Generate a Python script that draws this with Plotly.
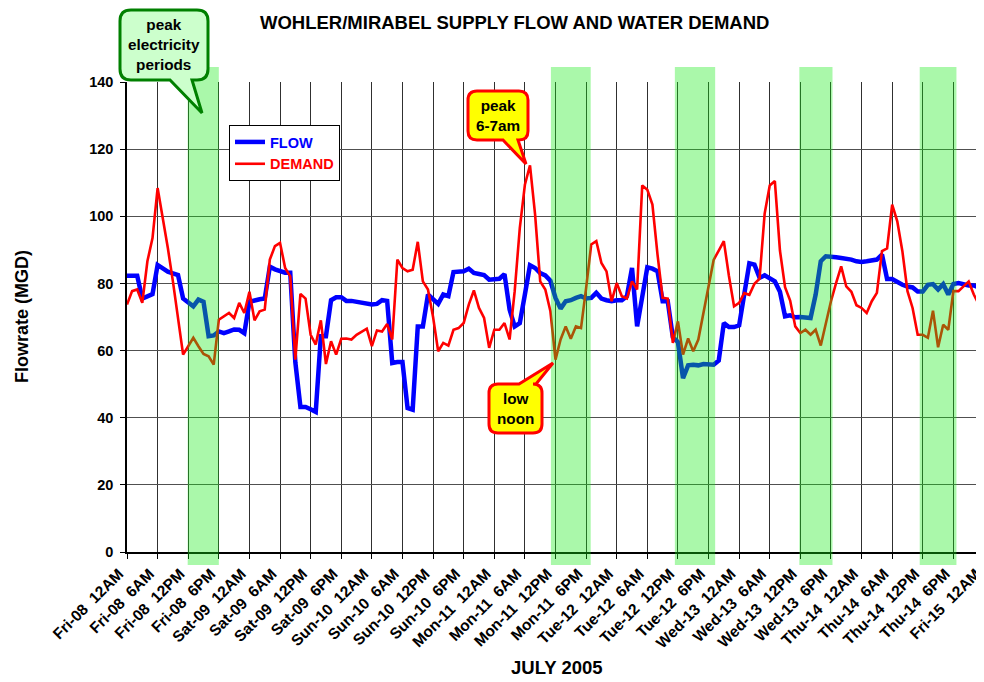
import plotly.graph_objects as go

# ---------------- data (hourly, Fri-08 00:00 .. Fri-15 00:00) ----------------
hours = list(range(169))

flow = [
    82.3, 82.3, 82.3, 75.5, 76.0, 76.8, 85.5, 84.5, 83.5, 83.0,   # 0-9
    82.5, 75.5, 74.3, 73.2, 75.2, 74.5, 64.3, 64.5, 65.7, 65.2,   # 10-19
    65.7, 66.3, 66.2, 65.2, 74.5, 75.0, 75.3, 75.5, 85.0, 84.2,   # 20-29
    83.6, 83.2, 83.2, 56.5, 43.2, 43.2, 42.5, 41.7, 64.3, 64.3,   # 30-39
    75.0, 75.9, 75.9, 74.8, 74.8, 74.6, 74.2, 73.9, 73.7, 73.9,   # 40-49
    75.0, 74.8, 56.3, 56.6, 56.6, 42.9, 42.4, 67.2, 67.2, 76.7,   # 50-59
    75.2, 73.9, 76.7, 76.2, 83.4, 83.6, 83.6, 84.4, 83.1, 82.8,   # 60-69
    82.5, 81.1, 81.1, 81.4, 82.8, 72.2, 67.2, 68.2, 76.7, 85.4,   # 70-79
    84.6, 83.1, 82.4, 80.8, 75.7, 72.5, 74.7, 75.0, 75.7, 76.2,   # 80-89
    75.5, 75.7, 77.2, 75.5, 75.0, 74.7, 75.0, 75.0, 76.2, 84.6,   # 90-99
    67.2, 76.7, 84.8, 84.4, 83.6, 74.7, 74.7, 64.0, 62.5, 51.8,   # 100-109
    55.6, 55.8, 55.6, 56.0, 55.8, 55.8, 57.0, 68.2, 67.0, 67.0,   # 110-119
    67.5, 76.7, 86.0, 85.6, 81.7, 82.4, 81.6, 80.6, 77.5, 70.2,   # 120-129
    70.5, 69.9, 70.0, 70.0, 69.7, 76.7, 86.6, 88.1, 87.8, 87.8,   # 130-139
    87.6, 87.4, 87.1, 86.6, 86.4, 86.6, 86.8, 87.1, 88.6, 81.3,   # 140-149
    81.3, 80.4, 79.6, 79.1, 78.8, 77.6, 77.6, 79.6, 79.8, 78.2,   # 150-159
    79.8, 76.7, 79.8, 80.1, 79.6, 79.4, 79.4, 78.8, 78.8,         # 160-168
]

demand = [
    73.7, 77.7, 78.2, 74.2, 86.6, 93.5, 108.4, 100.0, 90.6, 80.6,  # 0-9
    69.7, 58.8, 61.3, 63.8, 61.3, 59.0, 58.3, 55.8, 69.2, 70.2,    # 10-19
    71.2, 69.7, 74.2, 71.2, 77.5, 69.0, 71.7, 72.2, 87.1, 91.1,    # 20-29
    92.1, 84.6, 82.1, 57.3, 76.9, 75.5, 64.7, 61.8, 69.0, 56.0,    # 30-39
    62.8, 58.8, 63.5, 63.6, 63.3, 64.7, 65.5, 66.5, 61.3, 66.0,    # 40-49
    65.7, 67.9, 63.3, 87.1, 84.6, 83.6, 84.1, 92.4, 80.6, 78.2,    # 50-59
    70.0, 59.8, 62.3, 61.5, 66.2, 66.7, 68.2, 73.7, 77.9, 72.7,    # 60-69
    69.7, 60.8, 66.2, 66.2, 68.2, 63.3, 77.7, 96.5, 109.4, 115.2,  # 70-79
    100.5, 80.6, 78.2, 71.7, 57.3, 63.3, 67.2, 63.5, 67.2, 66.7,   # 80-89
    78.6, 91.6, 92.6, 86.1, 83.6, 74.7, 80.1, 76.2, 75.5, 80.6,    # 90-99
    78.2, 109.2, 107.9, 103.5, 88.6, 75.7, 75.5, 62.3, 68.7, 58.8, # 100-109
    63.6, 59.8, 63.3, 71.5, 78.5, 87.0, 89.8, 92.6, 82.2, 73.2,    # 110-119
    74.2, 77.1, 76.6, 79.9, 81.4, 100.8, 109.2, 110.5, 89.8, 78.9, # 120-129
    74.9, 67.2, 65.2, 66.2, 64.7, 66.2, 61.5, 68.2, 74.7, 80.1,    # 130-139
    85.1, 79.1, 77.5, 73.5, 72.7, 71.2, 74.7, 77.2, 89.6, 90.4,    # 140-149
    103.5, 98.5, 89.6, 77.7, 72.7, 64.7, 64.7, 63.8, 71.9, 61.0,   # 150-159
    67.7, 66.2, 77.7, 77.7, 79.1, 80.6, 76.7, 73.7, 73.5,          # 160-168
]

days = ["Fri-08", "Sat-09", "Sun-10", "Mon-11", "Tue-12", "Wed-13", "Thu-14", "Fri-15"]
times = ["12AM", "6AM", "12PM", "6PM"]
tick_hours = list(range(0, 169, 6))
tick_labels = [f"{days[i // 4]}\u00a0 {times[i % 4]}" for i in range(len(tick_hours))]

# peak electricity periods (hours from Fri-08 00:00)
band_start = [11.9, 83.1, 107.4, 131.8, 155.4]
band_end = [18.0, 90.9, 115.3, 138.3, 162.6]

# ---------------- layout geometry ----------------
# the page places the figure 8px in from the top-left corner
OFF = 8
W, H = 984 - OFF, 682 - OFF
ML, MT = 127 - OFF, 82 - OFF
MR = W - (984 - OFF)
MB = H - (552 - OFF)
PW, PH = W - ML - MR, H - MT - MB
FONT = "Liberation Sans, Arial, sans-serif"


def pp(x, y):
    """reference-image pixel -> paper coords"""
    return (x - OFF - ML) / PW, 1 - (y - OFF - MT) / PH


def callout_path(x0, y0, x1, y1, r, side, b0, b1, tip):
    def P(x, y):
        a, b = pp(x, y)
        return f"{a:.5f},{b:.5f}"

    s = f"M{P(x0 + r, y0)}"
    if side == "top":
        s += f" L{P(b0, y0)} L{P(*tip)} L{P(b1, y0)}"
    s += f" L{P(x1 - r, y0)} Q{P(x1, y0)} {P(x1, y0 + r)}"
    s += f" L{P(x1, y1 - r)} Q{P(x1, y1)} {P(x1 - r, y1)}"
    if side == "bottom":
        s += f" L{P(b1, y1)} L{P(*tip)} L{P(b0, y1)}"
    s += f" L{P(x0 + r, y1)} Q{P(x0, y1)} {P(x0, y1 - r)}"
    s += f" L{P(x0, y0 + r)} Q{P(x0, y0)} {P(x0 + r, y0)} Z"
    return s


fig = go.Figure()
fig.add_trace(go.Scatter(
    x=hours, y=flow, mode="lines",
    name="<b><span style='color:#0000ff'>FLOW</span></b>",
    line=dict(color="#0000ff", width=4.5),
))
fig.add_trace(go.Scatter(
    x=hours, y=demand, mode="lines",
    name="<b><span style='color:#ff0000'>DEMAND</span></b>",
    line=dict(color="#ff0000", width=2.6),
))

band_y0 = pp(0, 565)[1]
band_y1 = pp(0, 67)[1]
shapes = []
for s0, s1 in zip(band_start, band_end):
    shapes.append(dict(type="rect", xref="x", yref="paper", x0=s0, x1=s1,
                       y0=band_y0, y1=band_y1, fillcolor="rgba(20,235,20,0.36)",
                       line=dict(width=0), layer="above"))

# callouts
shapes.append(dict(type="path", xref="paper", yref="paper", layer="above",
                   path=callout_path(120, 10, 208, 80, 11, "bottom", 170, 192, (202, 113)),
                   fillcolor="#ccffcc", line=dict(color="#008000", width=3)))
shapes.append(dict(type="path", xref="paper", yref="paper", layer="above",
                   path=callout_path(468, 91, 528, 140, 9, "bottom", 503, 518, (526, 164)),
                   fillcolor="#ffff00", line=dict(color="#ff0000", width=3)))
shapes.append(dict(type="path", xref="paper", yref="paper", layer="above",
                   path=callout_path(489, 384, 542, 433, 9, "top", 519, 536, (553, 363)),
                   fillcolor="#ffff00", line=dict(color="#ff0000", width=3)))

annotations = []


def txt(text, x, y, size=15, angle=0):
    a, b = pp(x, y)
    annotations.append(dict(text=text, x=a, y=b, xref="paper", yref="paper",
                            showarrow=False, textangle=angle,
                            font=dict(family=FONT, size=size, color="#000000"),
                            xanchor="center", yanchor="middle"))


txt("<b>peak<br>electricity<br>periods</b>", 164, 44, 15.3)
txt("<b>peak<br>6-7am</b>", 498, 115, 15.3)
txt("<b>low<br>noon</b>", 515, 408, 15.3)
txt("<b>WOHLER/MIRABEL SUPPLY FLOW AND WATER DEMAND</b>", 514, 22, 18.5)
txt("<b>JULY 2005</b>", 557, 667, 18.5)
txt("<b>Flowrate (MGD)</b>", 22, 317, 18, -90)

lx, ly = pp(229, 125)
fig.update_layout(
    width=W, height=H,
    margin=dict(l=ML, r=MR, t=MT, b=MB, pad=0, autoexpand=False),
    paper_bgcolor="white", plot_bgcolor="white",
    font=dict(family=FONT, size=15, color="black"),
    showlegend=True,
    legend=dict(x=lx, y=ly, xanchor="left", yanchor="top",
                bgcolor="white", bordercolor="black", borderwidth=1,
                font=dict(family=FONT, size=14.5), itemwidth=30, tracegroupgap=0),
    shapes=shapes,
    annotations=annotations,
)
fig.update_xaxes(
    range=[0, 168], tickmode="array", tickvals=tick_hours,
    ticktext=[f"<b>{t}</b>" for t in tick_labels],
    tickangle=-45, showgrid=True, gridcolor="#303030", gridwidth=1,
    showline=True, linecolor="black", linewidth=1.5, ticks="outside", ticklen=5,
    tickcolor="black", zeroline=False, tickfont=dict(family=FONT, size=15.5),
    ticklabelshift=-8, ticklabeloverflow="allow", automargin=False,
)
fig.update_yaxes(
    range=[0, 140], tickmode="array", tickvals=list(range(0, 141, 20)),
    ticktext=[f"<b>{v}</b>" for v in range(0, 141, 20)],
    showgrid=True, gridcolor="#505050", gridwidth=1,
    showline=True, linecolor="black", linewidth=1.5, ticks="outside", ticklen=5,
    tickcolor="black", zeroline=False, tickfont=dict(family=FONT, size=14.5),
    ticklabelstandoff=4, automargin=False,
)

fig.write_html("out.html")
